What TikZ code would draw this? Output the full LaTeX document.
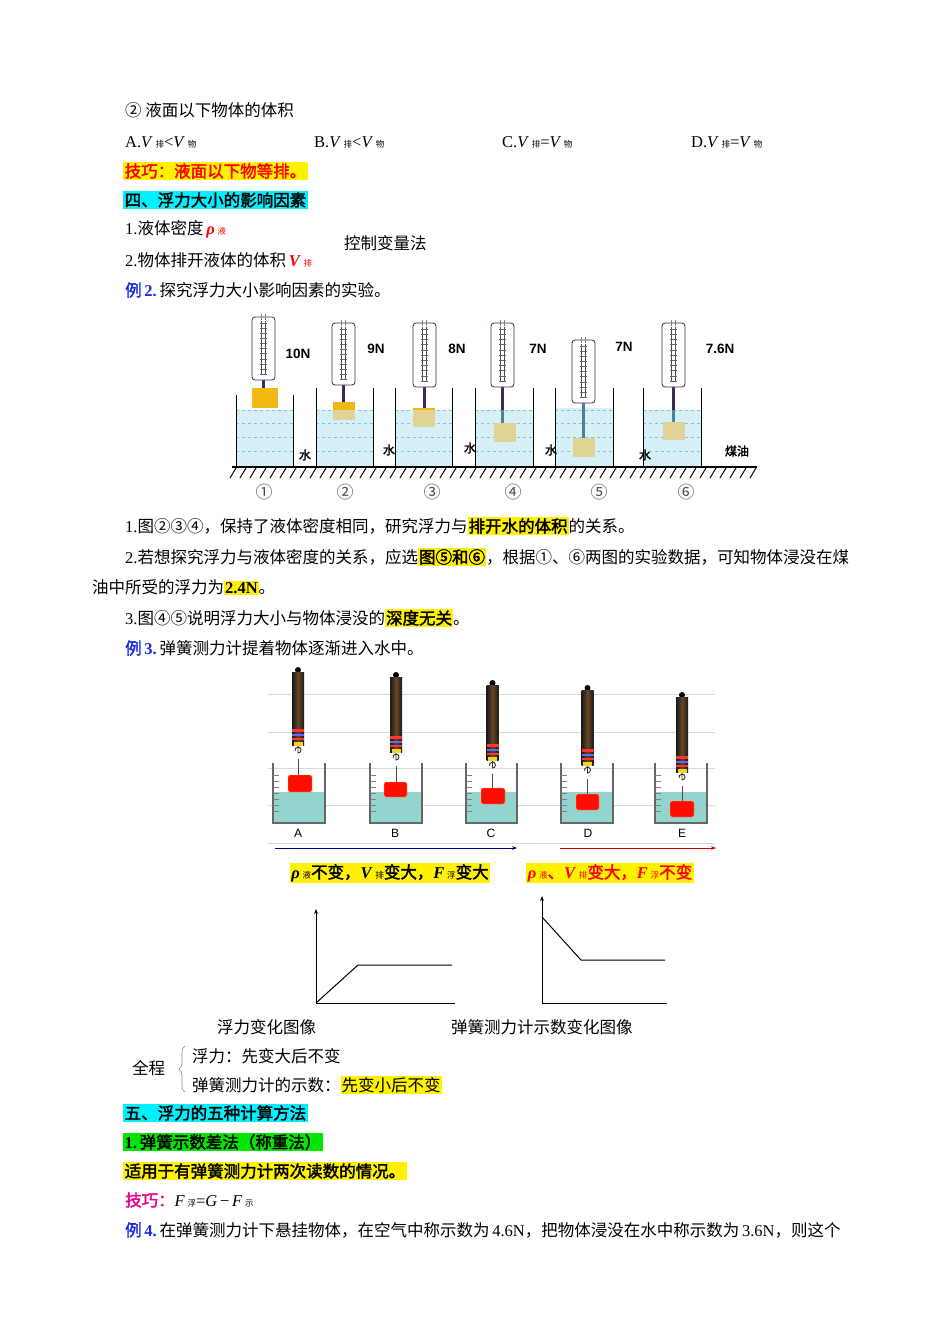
\documentclass[tikz,border=0pt]{standalone}
\usepackage{fontspec}
\setmainfont{Liberation Serif}
\newfontfamily\zhf{Noto Sans CJK SC}
\newfontfamily\zhbf[FakeBold=2]{Noto Sans CJK SC}
\newfontfamily\arialf{Liberation Sans}
\usetikzlibrary{arrows.meta,decorations.pathreplacing}
\newcommand\zh[1]{{\zhf #1}}
\newcommand\zb[1]{{\zhbf #1}}
\newcommand\sbs[1]{{\fontsize{8.5pt}{9pt}\selectfont\zhf #1}}
\newcommand\hly[1]{{\setlength\fboxsep{1pt}\colorbox{yellow}{#1}}}
\definecolor{hlcyan}{RGB}{0,240,255}
\definecolor{hlgreen}{RGB}{0,230,0}
\definecolor{exblue}{RGB}{20,40,230}
\definecolor{frame}{RGB}{60,40,90}
\definecolor{water}{RGB}{215,240,248}
\definecolor{waterline}{RGB}{120,200,225}
\definecolor{blkor}{RGB}{240,185,20}
\definecolor{blktan}{RGB}{225,210,150}
\definecolor{tealw}{RGB}{100,195,185}
\newcommand\fsone[3]{%
  \draw[fill=white,draw=frame,line width=0.8pt,rounded corners=3pt] (#1,#2) rectangle ++(23,#3-#2);
  \draw[black!70] (#1+9.5,#2+4) -- (#1+9.5,#3-5) (#1+13.5,#2+4) -- (#1+13.5,#3-5);
  \foreach \k in {0,...,10} \draw[black!60,line width=0.3pt] (#1+8,{#2+6+\k*(#3-#2-12)/10}) -- ++(7,0);
  \draw[black!50] (#1+9.5,#2-3) -- (#1+9.5,#2+3) (#1+13.5,#2-3) -- (#1+13.5,#2+3);
}
\newcommand\beakerone[3]{%
  \draw[black,line width=1pt] (#1,#3) -- (#1,466) (#2,#3) -- (#2,466);
}
\newcommand\fstwo[4]{%
  \fill[black] (#1,#2) circle (3);
  \shade[left color=black!90,right color=black!90,middle color=black!45!brown] (#1-6,#2+2.5) rectangle (#1+6,#3);
  \fill[red!80] (#1-6,#3-16) rectangle (#1+6,#3-13);
  \fill[blue!60] (#1-6,#3-11) rectangle (#1+6,#3-9);
  \fill[red!80] (#1-6,#3-7) rectangle (#1+6,#3-5);
  \fill[yellow!70!brown] (#1-4.5,#3-3) rectangle (#1+4.5,#3+1);
  \draw[black!80,line width=0.9pt] (#1,#3+1) -- (#1,#3+8) arc (90:-200:3);
  \draw[black!70,line width=0.5pt] (#1,#3+14) -- (#1,#4);
}
\newcommand\beakertwo[2]{%
  \fill[tealw!70] (#1,792) rectangle (#2,822);
  \draw[black!60,line width=1.5pt] (#1,763) -- (#1,823) -- (#2,823) -- (#2,763);
  \foreach \k in {0,...,6} \draw[black!50] (#1,{775+\k*6}) -- ++(6,0);
}
\begin{document}
\begin{tikzpicture}[x=1pt,y=-1pt,
  every node/.style={inner sep=0pt,font=\fontsize{16.5pt}{19pt}\selectfont},
  txt/.style={anchor=west},
  lbl/.style={font=\arialf\bfseries\fontsize{13.5pt}{15pt}\selectfont},
  circ/.style={font=\zhf\fontsize{17pt}{18pt}\selectfont,text=black!70}]
\useasboundingbox (0,0) rectangle (950,1344);
\fill[white] (0,0) rectangle (950,1344);

\node[txt] (t1) at (125,110) {\zh{② 液面以下物体的体积}};
\node[txt] (oa) at (125,142) {A.\textit{V}\,\sbs{排}<\textit{V}\,\sbs{物}};
\node[txt] (ob) at (314,142) {B.\textit{V}\,\sbs{排}<\textit{V}\,\sbs{物}};
\node[txt] (oc) at (502,142) {C.\textit{V}\,\sbs{排}=\textit{V}\,\sbs{物}};
\node[txt] (od) at (691,142) {D.\textit{V}\,\sbs{排}=\textit{V}\,\sbs{物}};
\node[txt,fill=yellow,inner sep=1.5pt,text=red] (jq) at (123,171) {\zb{技巧：液面以下物等排。}};
\node[txt,fill=hlcyan,inner sep=1.5pt] (h4) at (123,200) {\zb{四、浮力大小的影响因素}};
\node[txt] (f1) at (125,229) {1.\zh{液体密度}\,{\color{red}\textbf{\textit{ρ}}\,\sbs{液}}};
\node[txt] (f2) at (125,260) {2.\zh{物体排开液体的体积}\,{\color{red}\textbf{\textit{V}}\,\sbs{排}}};
\node[txt] (kz) at (344,243) {\zh{控制变量法}};
\node[txt] (ex2) at (125,290) {{\color{exblue}\zb{例}\textbf{\,2.}}\,\zh{探究浮力大小影响因素的实验。}};

% figure 1
\fill[water] (236,410) rectangle (293,466);
\fill[water] (316,410) rectangle (373,466);
\fill[water] (395,410) rectangle (452,466);
\fill[water] (475,410) rectangle (533,466);
\fill[water] (555,408) rectangle (613,466);
\fill[water] (643,410) rectangle (701,466);
\foreach \a/\b in {236/293,316/373,395/452,475/533,555/613,643/701}{
  \foreach \yy in {410,423,437,451} \draw[waterline,dashed,line width=0.4pt] (\a,\yy) -- (\b,\yy);
}
\draw[line width=2.2pt,frame] (263.5,380) -- (263.5,390);
\draw[line width=2.2pt,frame] (343.5,385) -- (343.5,403);
\draw[line width=2.2pt,frame] (424.5,387) -- (424.5,408);
\draw[line width=2.2pt,frame] (502.5,387) -- (502.5,410);
\draw[line width=2.2pt,black!35!waterline] (502.5,410) -- (502.5,423);
\draw[line width=2.2pt,black!35!waterline] (583.5,403) -- (583.5,438);
\draw[line width=2.2pt,frame] (673.5,387) -- (673.5,410);
\draw[line width=2.2pt,black!35!waterline] (673.5,410) -- (673.5,422);
\fill[blkor] (252,388) rectangle (278,408);
\fill[blktan] (333,402) rectangle (355,420);
\fill[blkor] (333,402) rectangle (355,410);
\fill[blktan] (413,408) rectangle (435,427);
\fill[blkor] (413,408) rectangle (435,410);
\fill[blktan] (494,423) rectangle (516,442);
\fill[blktan] (573,438) rectangle (595,457);
\fill[blktan] (663,422) rectangle (685,440);
\fsone{252}{317}{380}
\fsone{332}{323}{385}
\fsone{413}{323}{387}
\fsone{491}{323}{387}
\fsone{572}{340}{403}
\fsone{662}{323}{387}
\beakerone{236}{293}{395}
\beakerone{316}{373}{388}
\beakerone{395}{452}{388}
\beakerone{475}{533}{388}
\beakerone{555}{613}{388}
\beakerone{643}{701}{388}
\draw[line width=1.4pt] (232,467) -- (757,467);
\foreach \xx in {236,246,...,756} \draw[line width=1pt] (\xx,468) -- (\xx-6,478);
\node[lbl] (n1) at (298,354) {10N};
\node[lbl] (n2) at (376,349) {9N};
\node[lbl] (n3) at (457,349) {8N};
\node[lbl] (n4) at (538,349) {7N};
\node[lbl] (n5) at (624,347) {7N};
\node[lbl] (n6) at (720,349) {7.6N};
\node[font=\zhbf\fontsize{12pt}{13pt}\selectfont] (w1) at (305,455) {水};
\node[font=\zhbf\fontsize{12pt}{13pt}\selectfont] (w2) at (389,450) {水};
\node[font=\zhbf\fontsize{12pt}{13pt}\selectfont] (w3) at (470,448) {水};
\node[font=\zhbf\fontsize{12pt}{13pt}\selectfont] (w4) at (551,450) {水};
\node[font=\zhbf\fontsize{12pt}{13pt}\selectfont] (w5) at (645,455) {水};
\node[font=\zhbf\fontsize{12pt}{13pt}\selectfont] (w6) at (737,451) {煤油};
\node[circ] (c1) at (264,492) {①};
\node[circ] (c2) at (345,492) {②};
\node[circ] (c3) at (432,492) {③};
\node[circ] (c4) at (513,492) {④};
\node[circ] (c5) at (599,492) {⑤};
\node[circ] (c6) at (686,492) {⑥};

% middle text
\node[txt] (s1) at (125,526) {1.\zh{图②③④，保持了液体密度相同，研究浮力与}\hly{\zb{排开水的体积}}\zh{的关系。}};
\node[txt] (s2) at (125,557) {2.\zh{若想探究浮力与液体密度的关系，应选}\hly{\zb{图⑤和⑥}}\zh{，根据①、⑥两图的实验数据，可知物体浸没在煤}};
\node[txt] (s2b) at (92,587) {\zh{油中所受的浮力为}\hly{\textbf{2.4N}}\zh{。}};
\node[txt] (s3) at (125,618) {3.\zh{图④⑤说明浮力大小与物体浸没的}\hly{\zb{深度无关}}\zh{。}};
\node[txt] (ex3) at (125,648) {{\color{exblue}\zb{例}\textbf{\,3.}}\,\zh{弹簧测力计提着物体逐渐进入水中。}};

% figure 2
\foreach \yy in {694,732,768,805,843} \draw[black!15,line width=0.8pt] (268,\yy) -- (715,\yy);
\beakertwo{273}{325}
\beakertwo{370}{422}
\beakertwo{466}{517}
\beakertwo{561}{613}
\beakertwo{655}{707}
\fstwo{298}{670}{745}{775}
\fstwo{396}{675}{752}{782}
\fstwo{492.5}{683}{760}{788}
\fstwo{587.5}{688}{765}{794}
\fstwo{682}{695}{772}{801}
\foreach \a/\b/\c/\d in {288/312/775/792,384/407/782/797,481/505/788/804,576/599/794/810,670/694/801/817}
  \fill[red!90!orange,rounded corners=1.5pt,draw=orange!60] (\a,\c) rectangle (\b,\d);
\node[font=\arialf\fontsize{12pt}{13pt}\selectfont] (la) at (298,833) {A};
\node[font=\arialf\fontsize{12pt}{13pt}\selectfont] (lb) at (395,833) {B};
\node[font=\arialf\fontsize{12pt}{13pt}\selectfont] (lc) at (491,833) {C};
\node[font=\arialf\fontsize{12pt}{13pt}\selectfont] (ld) at (588,833) {D};
\node[font=\arialf\fontsize{12pt}{13pt}\selectfont] (le) at (682,833) {E};
\coordinate (ba) at (275,848); \coordinate (bb) at (517,848);
\coordinate (ra) at (560,848); \coordinate (rb) at (716,848);
\draw[blue!50!black,line width=0.8pt,-{Stealth[length=5pt]}] (ba) -- (bb);
\draw[red!80!black,line width=0.8pt,-{Stealth[length=5pt]}] (ra) -- (rb);
\node[fill=yellow,inner sep=1.5pt] (ya) at (390,873) {\textbf{\textit{ρ}}\,\sbs{液}\zb{不变，}\textbf{\textit{V}}\,\sbs{排}\zb{变大，}\textbf{\textit{F}}\,\sbs{浮}\zb{变大}};
\node[fill=yellow,inner sep=1.5pt,text=red] (yb) at (610,873) {\textbf{\textit{ρ}}\,\sbs{液}\zb{、}\textbf{\textit{V}}\,\sbs{排}\zb{变大，}\textbf{\textit{F}}\,\sbs{浮}\zb{不变}};

% graphs
\coordinate (o1) at (316,1003); \coordinate (y1) at (316,909); \coordinate (x1) at (455,1003);
\draw[line width=1pt,-{Stealth[length=5pt]}] (o1) -- (y1);
\draw[line width=1pt] (o1) -- (x1);
\coordinate (p1) at (358,965); \coordinate (q1) at (452,965);
\draw[line width=1pt] (o1) -- (p1) -- (q1);
\coordinate (o2) at (542,1003); \coordinate (y2) at (542,896); \coordinate (x2) at (667,1003);
\draw[line width=1pt,-{Stealth[length=5pt]}] (o2) -- (y2);
\draw[line width=1pt] (o2) -- (x2);
\coordinate (p2) at (542,917); \coordinate (q2) at (581,960); \coordinate (r2) at (665,960);
\draw[line width=1pt] (p2) -- (q2) -- (r2);
\node[txt] (g1) at (217,1027) {\zh{浮力变化图像}};
\node[txt] (g2) at (451,1027) {\zh{弹簧测力计示数变化图像}};

% bottom
\node[txt] (qc) at (132,1068) {\zh{全程}};
\draw[decorate,decoration={brace,amplitude=6pt},black!45,line width=0.6pt] (185,1092) -- (185,1046);
\node[txt] (b1) at (192,1056) {\zh{浮力：先变大后不变}};
\node[txt] (b2) at (192,1085) {\zh{弹簧测力计的示数：}\hly{\zh{先变小后不变}}};
\node[txt,fill=hlcyan,inner sep=1.5pt] (h5) at (123,1113) {\zb{五、浮力的五种计算方法}};
\node[txt,fill=hlgreen,inner sep=1.5pt] (m1) at (123,1142) {\textbf{1.\,}\zb{弹簧示数差法（称重法）}};
\node[txt,fill=yellow,inner sep=1.5pt] (m2) at (123,1171) {\zb{适用于有弹簧测力计两次读数的情况。}};
\node[txt] (jq2) at (125,1200) {{\color{magenta}\zb{技巧：}}\textit{F}\,\sbs{浮}=\textit{G}\,−\,\textit{F}\,\sbs{示}};
\node[txt] (ex4) at (125,1230) {{\color{exblue}\zb{例}\textbf{\,4.}}\,\zh{在弹簧测力计下悬挂物体，在空气中称示数为}\,4.6N\zh{，把物体浸没在水中称示数为}\,3.6N\zh{，则这个}};
\end{tikzpicture}
\end{document}
